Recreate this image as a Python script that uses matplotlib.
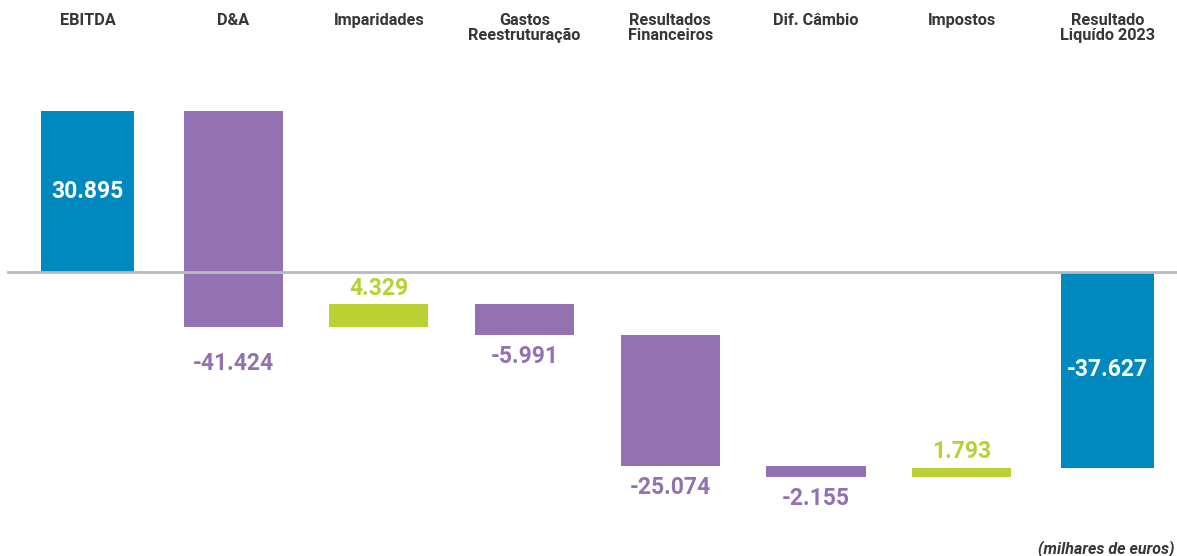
import matplotlib
matplotlib.use("Agg")
import matplotlib.pyplot as plt

categories = ["EBITDA", "D&A", "Imparidades", "Gastos\nReestruturação", "Resultados\nFinanceiros",
              "Dif. Câmbio", "Impostos", "Resultado\nLiquído 2023"]
values = [30.895, -41.424, 4.329, -5.991, -25.074, -2.155, 1.793, -37.627]
labels = ["30.895", "-41.424", "4.329", "-5.991", "-25.074", "-2.155", "1.793", "-37.627"]
kinds = ["total", "delta", "delta", "delta", "delta", "delta", "delta", "total"]

BLUE = "#0089BE"
PURPLE = "#9272B1"
GREEN = "#BBD032"
TEXT = "#363636"

fig = plt.figure(figsize=(11.77, 5.56), dpi=100)
ax = fig.add_axes([0, 0, 1, 1])
ax.axis("off")

step = 145.7
c0 = 87.5
ax.set_xlim(-c0 / step, (1177 - c0) / step)
scale = 5.2
zero_px = 272
ax.set_ylim(-(556 - zero_px) / scale, zero_px / scale)

font = "Roboto"
running = 0.0
for i, (v, lab, k) in enumerate(zip(values, labels, kinds)):
    if k == "total":
        bottom, height = 0.0, v
        color = BLUE
        width = 0.64
        running = v
    else:
        bottom, height = running, v
        color = GREEN if v > 0 else PURPLE
        width = 0.68
        running = running + v
    ax.bar(i, height, bottom=bottom, width=width, color=color, zorder=2)
    if k == "total":
        ax.text(i, bottom + height / 2, lab, ha="center", va="center", color="white",
                fontsize=16.5, fontweight="bold", family=font, zorder=4)
    else:
        top = max(bottom, bottom + height)
        low = min(bottom, bottom + height)
        if v > 0:
            ax.annotate(lab, (i, top), xytext=(0, 3), textcoords="offset points",
                        ha="center", va="bottom", color=GREEN, fontsize=16.5,
                        fontweight="bold", family=font)
        else:
            off = -18 if i == 1 else -7
            ax.annotate(lab, (i, low), xytext=(0, off), textcoords="offset points",
                        ha="center", va="top", color=PURPLE, fontsize=16.5,
                        fontweight="bold", family=font)
    ax.text(i, 1 - 13 / 556, categories[i], transform=ax.get_xaxis_transform(),
            ha="center", va="top", color=TEXT, fontsize=11.7, fontweight=600,
            family=font, linespacing=1.0)

ax.axhline(0, xmin=8 / 1177, xmax=1, color="#B5BBC1", lw=2, zorder=3)

fig.text(1 - 3 / 1177, 1 - 549 / 556, "(milhares de euros)", ha="right", va="center",
         fontsize=11.5, fontstyle="italic", fontweight=600, color=TEXT, family=font)

fig.savefig("out.png", dpi=100)
